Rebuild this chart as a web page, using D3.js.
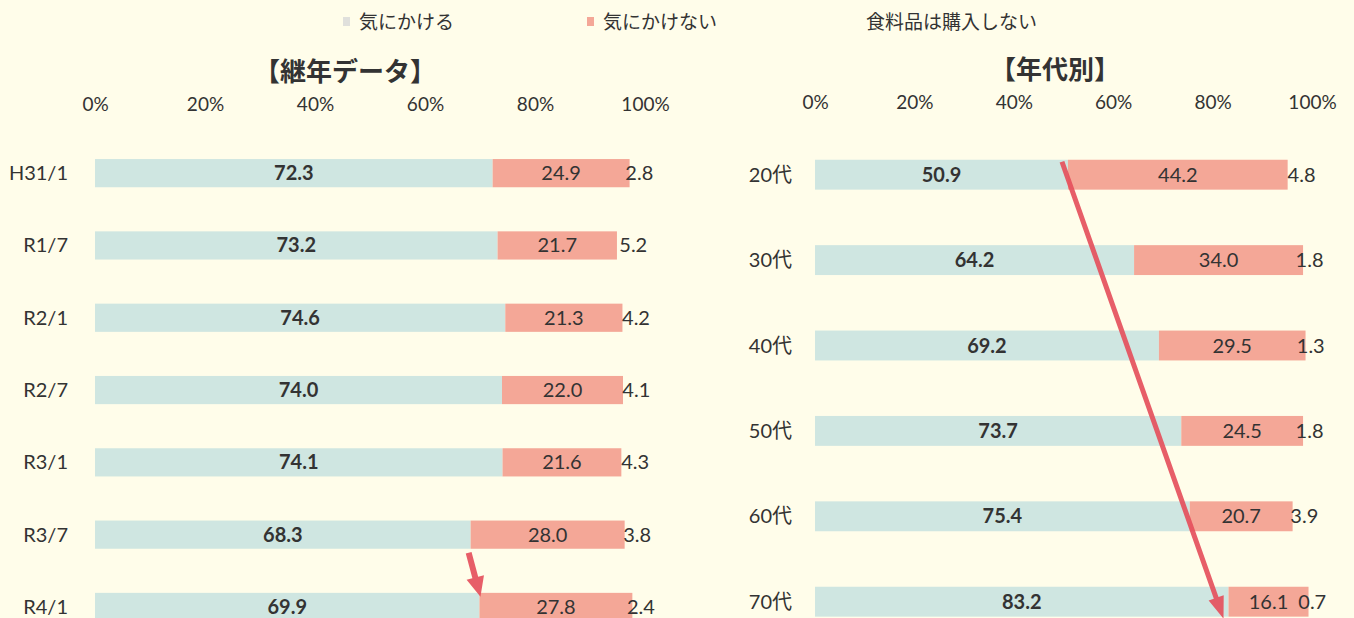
<!DOCTYPE html>
<html>
<head>
<meta charset="utf-8">
<script src="https://cdn.jsdelivr.net/npm/d3@7"></script>
<style>
  body { margin: 0; background: #fffdea; }
  text { font-family: "Lato", "Noto Sans CJK JP", sans-serif; fill: #333; }
</style>
</head>
<body>
<div id="chart"></div>
<script>
// data
var seriesNames = ["気にかける", "気にかけない", "食料品は購入しない"];
var yearCats = ["H31/1", "R1/7", "R2/1", "R2/7", "R3/1", "R3/7", "R4/1"];
var yearCare = [72.3, 73.2, 74.6, 74.0, 74.1, 68.3, 69.9];
var yearNoCare = [24.9, 21.7, 21.3, 22.0, 21.6, 28.0, 27.8];
var yearNoBuy = [2.8, 5.2, 4.2, 4.1, 4.3, 3.8, 2.4];
var ageCats = ["20代", "30代", "40代", "50代", "60代", "70代"];
var ageCare = [50.9, 64.2, 69.2, 73.7, 75.4, 83.2];
var ageNoCare = [44.2, 34.0, 29.5, 24.5, 20.7, 16.1];
var ageNoBuy = [4.8, 1.8, 1.3, 1.8, 3.9, 0.7];
var tickValues = [0, 20, 40, 60, 80, 100];

var colors = ["#cfe6e1", "#f4a797", "none"];

var svg = d3.select("#chart").append("svg")
  .attr("width", 1354)
  .attr("height", 618);

svg.append("rect").attr("width", 1354).attr("height", 618).attr("fill", "#fffdea");

// legend
var legendX = [343, 587, 850];
seriesNames.forEach(function(name, i) {
  if (i < 2) {
    svg.append("rect")
      .attr("x", legendX[i]).attr("y", 17)
      .attr("width", 7).attr("height", 9)
      .attr("fill", i == 0 ? "#e0e0dc" : colors[i]);
  }
  svg.append("text")
    .attr("x", legendX[i] + 16).attr("y", 22)
    .attr("dy", "0.35em")
    .style("font-size", "19px")
    .text(name);
});

// one panel of stacked bars
function drawPanel(opts) {
  var x = d3.scaleLinear().domain([0, 100]).range([opts.x0, opts.x1]);
  var y = d3.scaleBand().domain(opts.cats).range([opts.y0, opts.y0 + opts.step * opts.cats.length]).paddingInner(opts.pad).paddingOuter(opts.pad / 2);

  var rows = opts.cats.map(function(c, i) {
    return { cat: c, vals: [opts.a[i], opts.b[i], opts.c[i]] };
  });
  var stack = d3.stack().keys([0, 1, 2]).value(function(d, k) { return d.vals[k]; });
  var layers = stack(rows);

  var g = svg.append("g");

  g.append("text")
    .attr("x", opts.titleX).attr("y", opts.titleY)
    .attr("text-anchor", "middle").attr("dy", "0.35em")
    .style("font-size", "26px").style("font-weight", "bold")
    .style("font-family", "'Noto Sans CJK JP', sans-serif")
    .text(opts.title);

  var axis = d3.axisTop(x).tickValues(tickValues).tickFormat(function(d) { return d + "%"; }).tickSize(0).tickPadding(0);
  var ax = g.append("g").attr("transform", "translate(0," + opts.tickY + ")").call(axis);
  ax.select(".domain").remove();
  ax.selectAll("text").attr("dy", "0.35em").style("font-size", "19px").style("fill", "#333")
    .style("font-family", "Lato, sans-serif");

  layers.forEach(function(layer, k) {
    g.selectAll(null).data(layer).enter().append("rect")
      .attr("x", function(d) { return x(d[0]); })
      .attr("y", function(d) { return y(d.data.cat); })
      .attr("width", function(d) { return x(d[1]) - x(d[0]); })
      .attr("height", y.bandwidth())
      .attr("fill", colors[k]);

    g.selectAll(null).data(layer).enter().append("text")
      .attr("x", function(d) { return (x(d[0]) + x(d[1])) / 2 + (k == 2 ? 2 : 0); })
      .attr("y", function(d) { return y(d.data.cat) + y.bandwidth() / 2; })
      .attr("text-anchor", "middle").attr("dy", "0.35em")
      .style("font-size", "20px")
      .style("font-weight", k == 0 ? "bold" : "normal")
      .text(function(d) { return d.data.vals[k].toFixed(1); });
  });

  g.selectAll(null).data(opts.cats).enter().append("text")
    .attr("x", opts.labelX)
    .attr("y", function(d) { return y(d) + y.bandwidth() / 2; })
    .attr("text-anchor", "end").attr("dy", "0.35em")
    .style("font-size", "20px")
    .text(function(d) { return d; });

  return { x: x, y: y };
}

var left = drawPanel({
  cats: yearCats, a: yearCare, b: yearNoCare, c: yearNoBuy,
  x0: 95, x1: 645, y0: 137, step: 72.3, pad: 0.61,
  labelX: 68, title: "【継年データ】", titleX: 345, titleY: 72, tickY: 104
});

var right = drawPanel({
  cats: ageCats, a: ageCare, b: ageNoCare, c: ageNoBuy,
  x0: 815, x1: 1312, y0: 132, step: 85.4, pad: 0.65,
  labelX: 792, title: "【年代別】", titleX: 1055, titleY: 70, tickY: 102
});

// arrows
function arrow(x1, y1, x2, y2, w, head, headW) {
  var ang = Math.atan2(y2 - y1, x2 - x1);
  var len = Math.hypot(x2 - x1, y2 - y1);
  var pts = [[0, -w / 2], [len - head, -w / 2], [len - head, -headW / 2], [len, 0],
             [len - head, headW / 2], [len - head, w / 2], [0, w / 2]];
  svg.append("path")
    .attr("d", d3.line()(pts) + "Z")
    .attr("transform", "translate(" + x1 + "," + y1 + ") rotate(" + ang * 180 / Math.PI + ")")
    .attr("fill", "#e5505c")
    .attr("opacity", 0.92);
}
// R3/7 -> R4/1 boundary
arrow(left.x(yearCare[5]) - 2, left.y("R3/7") + left.y.bandwidth() + 4,
      left.x(yearCare[6]) + 1, left.y("R4/1") + 4, 6, 20, 18);
// 20代 -> 70代 boundary
arrow(right.x(ageCare[0]) - 6, right.y("20代") + 2,
      right.x(ageCare[5]) - 5, right.y("70代") + right.y.bandwidth() + 2, 5, 22, 16);
</script>
</body>
</html>
